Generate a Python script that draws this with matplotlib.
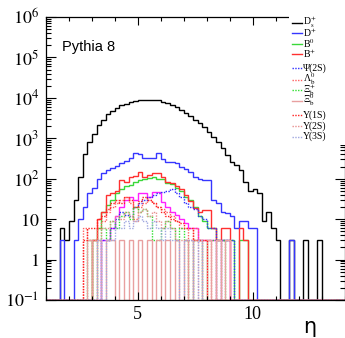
import numpy as np
import matplotlib
matplotlib.use("Agg")
import matplotlib.pyplot as plt
from matplotlib.lines import Line2D
from matplotlib.patches import Rectangle
from matplotlib.ticker import FixedLocator, MultipleLocator, LogLocator, FixedFormatter, NullFormatter

plt.rcParams['mathtext.fontset'] = 'stix'
plt.rcParams['font.family'] = ['Liberation Serif', 'DejaVu Serif']

# eta bins, 0.2 wide, from 1 to 14 (65 bins)
eta_edges = np.round(np.linspace(1.0, 14.0, 66), 2)

ds = [0, 0, 0, 6, 3, 9, 30, 110, 400, 800,
      1300, 2100, 2800, 3900, 4700, 5600, 6500, 7200, 7900, 8300,
      8700, 8900, 9000, 9000, 8700, 8100, 7400, 6600, 5800, 4900,
      4300, 3600, 2900, 2400, 1900, 1400, 1100, 800, 580, 380,
      260, 220, 165, 85, 50, 55, 45, 9, 15, 6,
      3, 0, 0, 3, 0, 0, 3, 0, 0, 3,
      0, 0, 0, 0, 0]
dp = [0, 0, 0, 3, 0, 0, 3, 10, 20, 45,
      60, 100, 140, 165, 180, 210, 250, 270, 320, 430,
      400, 320, 330, 320, 430, 300, 260, 260, 250, 200,
      170, 150, 110, 100, 95, 95, 30, 25, 15, 14,
      12, 6, 9, 9, 6, 6, 0, 0, 0, 0,
      0, 0, 0, 3, 0, 0, 0, 0, 0, 0,
      0, 0, 0, 0, 0]
b0 = [0, 0, 0, 0, 0, 0, 0, 0, 0, 0,
      3, 6, 15, 22, 30, 45, 55, 65, 70, 85,
      95, 100, 105, 110, 100, 100, 80, 75, 60, 50,
      36, 30, 20, 12, 9, 6, 6, 3, 3, 3,
      3, 0, 3, 3, 0, 0, 0, 0, 0, 0,
      0, 0, 0, 0, 0, 0, 0, 0, 0, 0,
      0, 0, 0, 0, 0]
bp = [0, 0, 0, 0, 0, 0, 0, 0, 0, 0,
      3, 10, 15, 40, 45, 50, 95, 85, 110, 115,
      145, 112, 124, 137, 137, 110, 85, 77, 65, 55,
      40, 28, 19, 15, 17, 17, 6, 3, 6, 6,
      0, 0, 6, 3, 0, 0, 0, 0, 0, 0,
      0, 0, 0, 0, 0, 0, 0, 0, 0, 0,
      0, 0, 0, 0, 0]
extra = [0, 0, 0, 0, 0, 0, 0, 0, 0, 0,
         0, 0, 3, 3, 6, 12, 20, 29, 36, 30,
         45, 45, 36, 47, 47, 27, 20, 15, 13, 10,
         8, 6, 6, 3, 3, 3, 3, 0, 3, 3,
         0, 0, 0, 0, 0, 0, 0, 0, 0, 0,
         0, 0, 0, 0, 0, 0, 0, 0, 0, 0,
         0, 0, 0, 0, 0]
psi2s = [0, 0, 0, 0, 0, 0, 0, 0, 0, 0,
         0, 0, 3, 3, 6, 10, 15, 13, 12, 20,
         25, 30, 35, 40, 45, 47, 50, 55, 45, 35,
         25, 20, 18, 12, 10, 6, 6, 3, 3, 3,
         3, 0, 0, 0, 0, 0, 0, 0, 0, 0,
         0, 0, 0, 0, 0, 0, 0, 0, 0, 0,
         0, 0, 0, 0, 0]
lamb = [0, 0, 0, 0, 0, 0, 0, 0, 6, 3,
        3, 6, 9, 15, 20, 25, 30, 36, 25, 10,
        20, 25, 30, 25, 20, 18, 15, 12, 9, 6,
        6, 3, 6, 3, 3, 3, 0, 0, 0, 0,
        0, 0, 0, 0, 0, 0, 0, 0, 0, 0,
        0, 0, 0, 0, 0, 0, 0, 0, 0, 0,
        0, 0, 0, 0, 0]
xibp = [0, 0, 0, 0, 0, 0, 0, 0, 0, 3,
        0, 3, 6, 3, 9, 6, 12, 15, 10, 20,
        15, 18, 12, 3, 3, 6, 9, 6, 3, 6,
        3, 0, 3, 3, 0, 3, 3, 0, 3, 0,
        0, 0, 0, 0, 0, 0, 0, 0, 0, 0,
        0, 0, 0, 0, 0, 0, 0, 0, 0, 0,
        0, 0, 0, 0, 0]
xib0 = [0, 0, 0, 0, 0, 0, 0, 0, 0, 3,
        0, 3, 0, 3, 3, 0, 3, 0, 3, 0,
        3, 0, 3, 0, 3, 0, 3, 0, 3, 0,
        3, 0, 3, 3, 0, 3, 0, 3, 0, 3,
        0, 0, 0, 0, 0, 0, 0, 0, 0, 0,
        0, 0, 0, 0, 0, 0, 0, 0, 0, 0,
        0, 0, 0, 0, 0]
ups1s = [0, 0, 0, 0, 0, 0, 0, 0, 3, 6,
         6, 10, 12, 18, 25, 30, 25, 35, 30, 20,
         28, 35, 30, 25, 20, 15, 12, 10, 9, 8,
         6, 6, 3, 3, 3, 0, 0, 0, 0, 0,
         0, 0, 0, 0, 0, 0, 0, 0, 0, 0,
         0, 0, 0, 0, 0, 0, 0, 0, 0, 0,
         0, 0, 0, 0, 0]
ups2s = [0, 0, 0, 0, 0, 0, 0, 0, 0, 0,
         3, 3, 6, 6, 9, 12, 10, 15, 12, 9,
         15, 18, 12, 15, 9, 6, 9, 6, 3, 3,
         3, 0, 3, 0, 0, 0, 0, 0, 0, 0,
         0, 0, 0, 0, 0, 0, 0, 0, 0, 0,
         0, 0, 0, 0, 0, 0, 0, 0, 0, 0,
         0, 0, 0, 0, 0]
ups3s = [0, 0, 0, 0, 0, 0, 0, 0, 0, 0,
         0, 3, 0, 3, 3, 6, 6, 9, 6, 9,
         12, 9, 6, 9, 6, 3, 6, 3, 3, 0,
         3, 3, 0, 3, 0, 0, 0, 0, 0, 0,
         0, 0, 0, 0, 0, 0, 0, 0, 0, 0,
         0, 0, 0, 0, 0, 0, 0, 0, 0, 0,
         0, 0, 0, 0, 0]

dotted = (0, (1, 1))
series = [
    (ds, '#000000', '-', r'D$_{\rm s}^{+}$'),
    (dp, '#3636ff', '-', r'D$^{+}$'),
    (b0, '#3ad83a', '-', r'B$^{0}$'),
    (bp, '#ff3030', '-', r'B$^{+}$'),
    (psi2s, '#3030ff', dotted, 'Ψ(2S)'),
    (lamb, '#ff6060', dotted, r'Λ$_{\rm b}^{0}$'),
    (xibp, '#30e030', dotted, r'Ξ$_{\rm b}^{+}$'),
    (xib0, '#e8a0a0', '-', r'Ξ$_{\rm b}^{0}$'),
    (ups1s, '#ff2020', dotted, 'Υ(1S)'),
    (ups2s, '#e89090', dotted, 'Υ(2S)'),
    (ups3s, '#a0a8e0', dotted, 'Υ(3S)'),
]
# row centres of the legend entries, in pixels from the top
leg_rows = [22.5, 33, 43.5, 54, 68, 79.5, 90, 100.5, 115, 126, 136.5]

ymin, ymax = 0.1, 1e6
W, H = 345, 338

fig = plt.figure(figsize=(3.45, 3.38), dpi=100)
ax = fig.add_axes([46 / W, 1 - 300 / H, 298.5 / W, 283 / H])

for i, (vals, col, ls, lab) in enumerate(series):
    v = np.asarray(vals, dtype=float)
    ax.stairs(np.where(v > 0, v, ymin), eta_edges, baseline=ymin, color=col, linestyle=ls, lw=1.0)
    if i == 3:
        # magenta histogram (no legend entry in the reference)
        m = np.asarray(extra, dtype=float)
        ax.stairs(np.where(m > 0, m, ymin), eta_edges, baseline=ymin, color='#ff20ff', lw=1.0)

ax.set_yscale('log')
ax.set_xlim(1, 14)
ax.set_ylim(ymin, ymax)

ax.xaxis.set_major_locator(FixedLocator([5, 10]))
ax.xaxis.set_minor_locator(MultipleLocator(1))
ax.set_xticklabels(['5', '10'])
ax.yaxis.set_major_locator(FixedLocator([1e-1, 1, 10, 1e2, 1e3, 1e4, 1e5, 1e6]))
ax.yaxis.set_major_formatter(FixedFormatter(
    [r'$10^{-1}$', r'$1$', r'$10$', r'$10^{2}$', r'$10^{3}$', r'$10^{4}$', r'$10^{5}$', r'$10^{6}$']))
ax.yaxis.set_minor_locator(LogLocator(base=10, subs=np.arange(2, 10), numticks=20))
ax.yaxis.set_minor_formatter(NullFormatter())

ax.tick_params(which='both', direction='in', top=True, right=True, width=0.8, labelsize=13)
ax.tick_params(axis='x', which='major', length=6, pad=4)
ax.tick_params(axis='x', which='minor', length=3)
ax.tick_params(axis='y', which='major', length=7, pad=5)
ax.tick_params(axis='y', which='minor', length=3.5)
for s in ax.spines.values():
    s.set_linewidth(0.9)

# ROOT-style legend: white box over the top right corner
fig.patches.append(Rectangle((289 / W, 1 - 145 / H), 56 / W, 130 / H, transform=fig.transFigure,
                             facecolor='white', edgecolor='none', zorder=5))
for (vals, col, ls, lab), yr in zip(series, leg_rows):
    yf = 1 - yr / H
    fig.add_artist(Line2D([291.5 / W, 301.5 / W], [yf, yf], transform=fig.transFigure,
                          color=col, linestyle=ls, lw=1.0, zorder=6))
    fig.text(303 / W, yf, lab, fontsize=7, va='center', ha='left', zorder=6)

fig.text(62 / W, 1 - 50.5 / H, 'Pythia 8', family='Liberation Sans', fontsize=10.5, va='baseline')
fig.text(303 / W, 1 - 333 / H, 'η', family='DejaVu Sans', fontsize=15, va='baseline')

fig.savefig('out.png', dpi=100)
